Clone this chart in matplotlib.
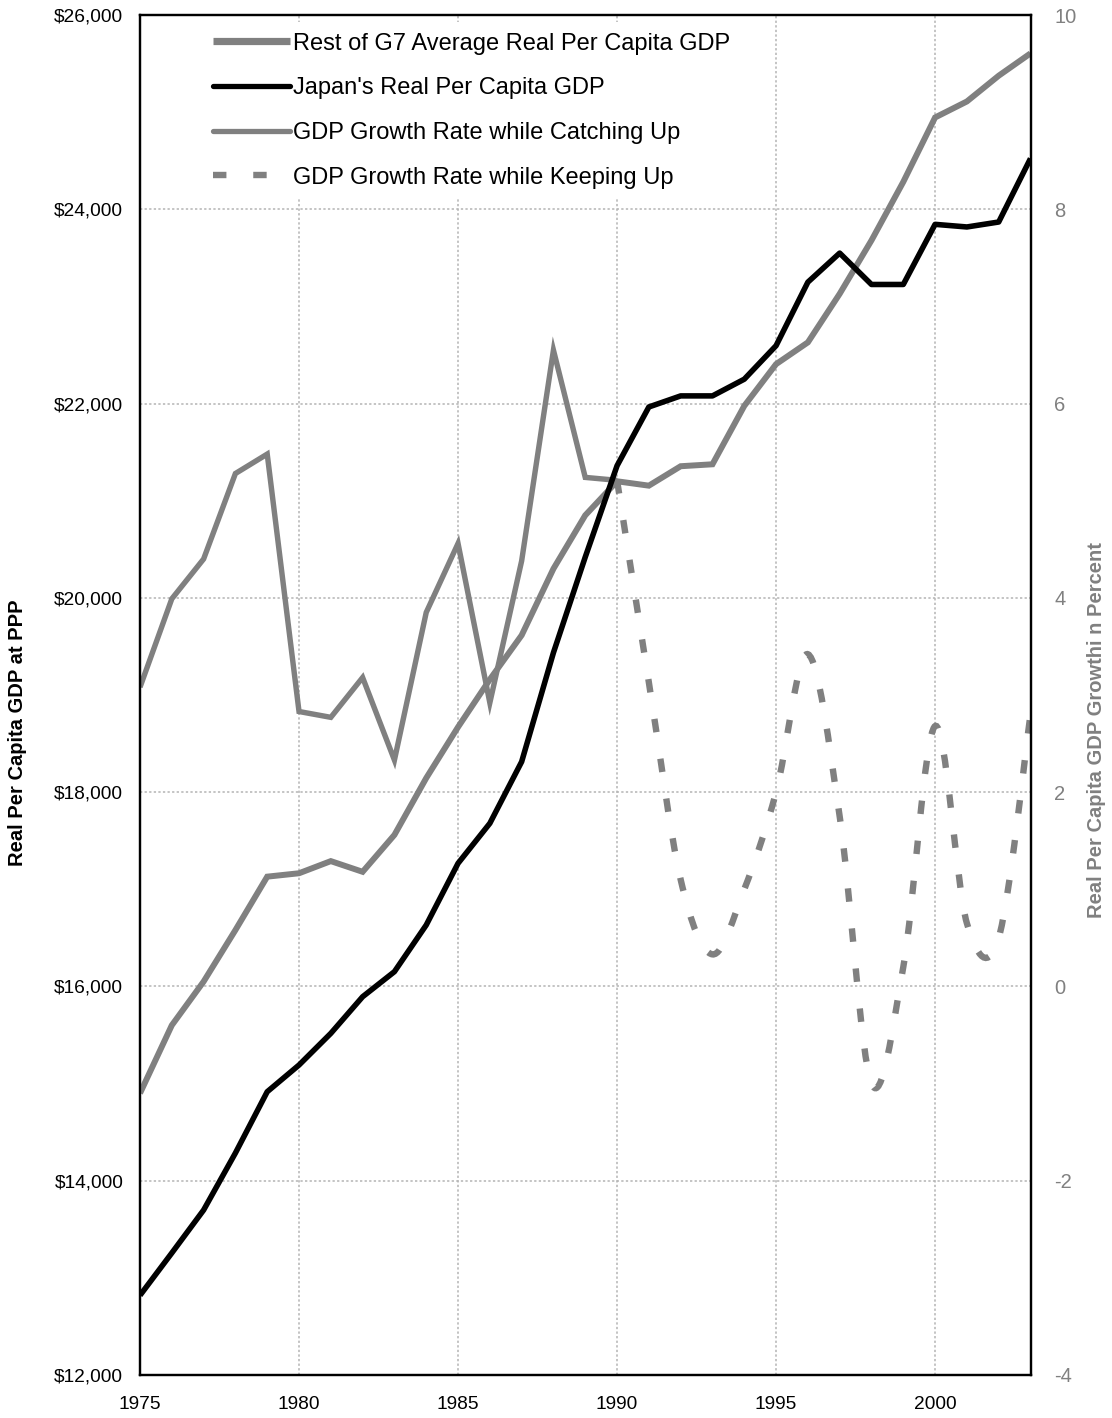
import matplotlib
matplotlib.use("Agg")
import matplotlib.pyplot as plt
from matplotlib.path import Path
from matplotlib.patches import PathPatch
from matplotlib.lines import Line2D
from matplotlib.ticker import FuncFormatter

plt.rcParams['font.family'] = ['Liberation Sans', 'DejaVu Sans']

# ---------------- data ----------------
years = [1975, 1976, 1977, 1978, 1979, 1980, 1981, 1982, 1983, 1984,
         1985, 1986, 1987, 1988, 1989, 1990, 1991, 1992, 1993, 1994,
         1995, 1996, 1997, 1998, 1999, 2000, 2001, 2002, 2003]
g7_gdp = [14900, 15600, 16050, 16580, 17130, 17165, 17290, 17180, 17560, 18145,
          18670, 19160, 19615, 20300, 20850, 21200, 21155, 21355, 21375, 21976,
          22406, 22630, 23130, 23680, 24282, 24945, 25110, 25375, 25605]
japan_gdp = [12820, 13256, 13698, 14285, 14916, 15191, 15517, 15894, 16152, 16632,
             17267, 17679, 18313, 19436, 20420, 21360, 21965, 22079, 22079, 22251,
             22596, 23250, 23549, 23226, 23226, 23845, 23818, 23869, 24523]
catch_years = [1975, 1976, 1977, 1978, 1979, 1980, 1981, 1982, 1983, 1984,
               1985, 1986, 1987, 1988, 1989, 1990]
catch_growth = [3.08, 3.99, 4.40, 5.28, 5.48, 2.83, 2.77, 3.18, 2.33, 3.85,
                4.56, 2.92, 4.38, 6.55, 5.24, 5.21]
keep_years = [1990, 1991, 1992, 1993, 1994, 1995, 1996, 1997, 1998, 1999,
              2000, 2001, 2002, 2003]
keep_growth = [5.21, 3.13, 1.10, 0.33, 1.00, 2.00, 3.42, 1.75, -1.00, 0.20,
               2.68, 0.65, 0.50, 2.80]
x_ticks = [1975, 1980, 1985, 1990, 1995, 2000]
left_ticks = [12000, 14000, 16000, 18000, 20000, 22000, 24000, 26000]
right_ticks = [-4, -2, 0, 2, 4, 6, 8, 10]
labels = ["Rest of G7 Average Real Per Capita GDP", "Japan's Real Per Capita GDP",
          "GDP Growth Rate while Catching Up", "GDP Growth Rate while Keeping Up"]

GRAY = '#808080'

W, H = 1112, 1418
fig = plt.figure(figsize=(W / 100, H / 100), dpi=100)
ax = fig.add_axes([140 / W, 1 - 1375 / H, (1030.5 - 140) / W, (1375 - 15) / H])
ax2 = ax.twinx()

# secondary axis drawn beneath the primary one
ax.set_zorder(ax2.get_zorder() + 1)
ax.patch.set_visible(False)
ax2.patch.set_facecolor('white')

ax2.plot(catch_years, catch_growth, color=GRAY, lw=3.9, solid_joinstyle='miter',
         solid_capstyle='butt')

# smoothed (Bezier) path through the keeping-up points, like spreadsheet smoothing
pts = list(zip(keep_years, keep_growth))
n = len(pts)
verts = [pts[0]]
codes = [Path.MOVETO]
for i in range(n - 1):
    p0 = pts[max(i - 1, 0)]
    p1 = pts[i]
    p2 = pts[i + 1]
    p3 = pts[min(i + 2, n - 1)]
    c1 = (p1[0] + (p2[0] - p0[0]) / 6, p1[1] + (p2[1] - p0[1]) / 6)
    c2 = (p2[0] - (p3[0] - p1[0]) / 6, p2[1] - (p3[1] - p1[1]) / 6)
    verts += [c1, c2, p2]
    codes += [Path.CURVE4] * 3
DASH = (0, (2.1, 4.2))
patch = PathPatch(Path(verts, codes), fill=False, edgecolor=GRAY, lw=4.6,
                  linestyle=DASH, capstyle='butt', transform=ax2.transData)
ax2.add_patch(patch)

ax.plot(years, g7_gdp, color=GRAY, lw=4.3, solid_joinstyle='miter', solid_capstyle='butt')
ax.plot(years, japan_gdp, color='black', lw=4.0, solid_joinstyle='round', solid_capstyle='butt')

ax.set_xlim(1975, 2003)
ax.set_ylim(12000, 26000)
ax2.set_ylim(-4, 10)
ax.set_xticks(x_ticks)
ax.set_yticks(left_ticks)
ax2.set_yticks(right_ticks)
ax.yaxis.set_major_formatter(FuncFormatter(lambda v, p: '${:,.0f}'.format(v)))
ax2.yaxis.set_major_formatter(FuncFormatter(lambda v, p: '{:d}'.format(int(round(v)))))

ax2.grid(False)
ax.grid(False)
for t in x_ticks[1:]:
    ax2.axvline(t, color='#b4b4b4', lw=1.1, ls=(0, (1.5, 1.5)), zorder=0)
for t in right_ticks[1:-1]:
    ax2.axhline(t, color='#b4b4b4', lw=1.1, ls=(0, (1.5, 1.5)), zorder=0)

ax.tick_params(axis='both', length=0)
ax2.tick_params(axis='y', length=0, labelcolor=GRAY, labelsize=14.5, pad=17)
ax.tick_params(axis='y', labelsize=13.8, pad=12)
ax.tick_params(axis='x', labelsize=13.8, pad=15)

for a in (ax, ax2):
    for s in a.spines.values():
        s.set_linewidth(1.6)
        s.set_color('black')

fig.text(18 / W, 1 - 733 / H, "Real Per Capita GDP at PPP", rotation=90, fontsize=14.5,
         fontweight='bold', ha='center', va='center')
fig.text(1097 / W, 1 - 730 / H, "Real Per Capita GDP Growthi n Percent", rotation=90,
         fontsize=14.5, fontweight='bold', color=GRAY, ha='center', va='center')

handles = [Line2D([], [], color=GRAY, lw=5.2, solid_capstyle='butt'),
           Line2D([], [], color='black', lw=3.8, solid_capstyle='round'),
           Line2D([], [], color=GRAY, lw=3.8, solid_capstyle='round'),
           Line2D([], [], color=GRAY, lw=4.6, ls=DASH, dash_capstyle='butt')]
leg = ax.legend(handles, labels, loc='upper left', bbox_to_anchor=(202 / W, 1 - 22 / H),
                bbox_transform=fig.transFigure, fontsize=17, handlelength=3.26,
                handletextpad=0.13, labelspacing=0.96, borderpad=0.45,
                frameon=True, fancybox=False, framealpha=1, borderaxespad=0)
leg.get_frame().set_edgecolor('none')
leg.get_frame().set_facecolor('white')

fig.savefig('out.png', dpi=100)
